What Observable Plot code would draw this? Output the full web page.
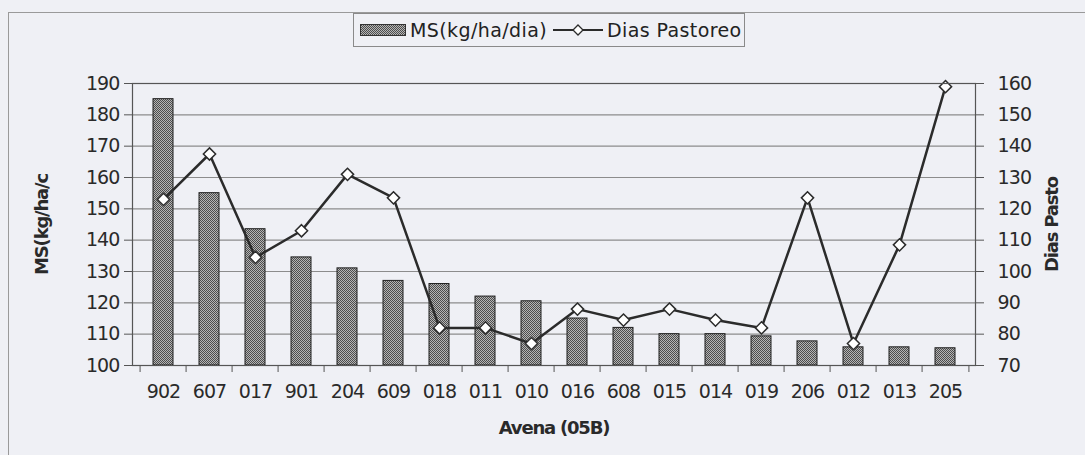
<!DOCTYPE html>
<html><head><meta charset="utf-8">
<script src="https://cdn.jsdelivr.net/npm/d3@7"></script>
<script src="https://cdn.jsdelivr.net/npm/@observablehq/plot@0.6"></script>
<style>
body{margin:0;background:#eff0f5;font-family:"DejaVu Sans",sans-serif;}
#wrap{position:relative;width:1085px;height:455px;overflow:hidden;}
#border{position:absolute;left:8px;top:12px;width:1200px;height:600px;border-top:1px solid #9a9a9a;border-left:1px solid #9a9a9a;}
#legend{position:absolute;left:353px;top:13px;width:392px;height:34px;border:1px solid #8a8a8a;box-sizing:border-box;display:flex;align-items:center;font-size:19px;color:#222;white-space:nowrap;letter-spacing:0.4px;padding-left:6px;}
#legend svg{display:block}
#chart{position:absolute;left:0;top:0;}
</style></head>
<body>
<div id="wrap">
  <div id="border"></div>
  <div id="chart"></div>
  <div id="legend">
    <svg width="46" height="12" style="margin-right:4px"><defs><pattern id="stiplg" width="2" height="2" patternUnits="userSpaceOnUse"><rect width="2" height="2" fill="#b5b5b5"/><rect width="1" height="1" fill="#4d4d4d"/><rect x="1" y="1" width="1" height="1" fill="#4d4d4d"/></pattern></defs><rect x="0.5" y="0.5" width="45" height="11" fill="url(#stiplg)" stroke="#333"/></svg>
    <span id="lg1"></span>
    <svg width="50" height="14" style="margin:0 4px 0 6px"><line x1="0" y1="7" x2="50" y2="7" stroke="#2b2b2b" stroke-width="2"/><path d="M25,2 L30,7 L25,12 L20,7 Z" fill="white" stroke="#2b2b2b" stroke-width="1.3"/></svg>
    <span id="lg2"></span>
  </div>
</div>
<script>
const categories = ["902","607","017","901","204","609","018","011","010","016","608","015","014","019","206","012","013","205"];
const msValues   = [185, 155, 143.5, 134.5, 131, 127, 126, 122, 120.5, 115, 112, 110, 110, 109.3, 107.7, 105.8, 105.8, 105.5];
const diasValues = [123, 137.5, 104.5, 113, 131, 123.5, 82, 82, 77, 88, 84.5, 88, 84.5, 82, 123.5, 77, 108.5, 159];
const leftTicks  = [100,110,120,130,140,150,160,170,180,190];
const rightTicks = [70,80,90,100,110,120,130,140,150,160];
const seriesNames = ["MS(kg/ha/dia)", "Dias Pastoreo"];
const leftTitle = "MS(kg/ha/c";
const rightTitle = "Dias Pasto";
const xTitle = "Avena (05B)";

document.getElementById("lg1").textContent = seriesNames[0];
document.getElementById("lg2").textContent = seriesNames[1];

const W = 1085, H = 455, mL = 132, mR = 110, mT = 83, mB = 90;
const step = (W - mL - mR) / categories.length;
const offset = leftTicks[0] - rightTicks[0];
const rows = categories.map((c, i) => ({cat: c, ms: msValues[i], dias: diasValues[i]}));

const chart = Plot.plot({
  width: W, height: H, marginLeft: mL, marginRight: mR, marginTop: mT, marginBottom: mB,
  style: {background: "transparent", fontFamily: "DejaVu Sans", fontSize: "19px", color: "#2a2a2a", letterSpacing: "-0.9px"},
  x: {type: "band", domain: categories, paddingInner: 0.57, paddingOuter: 0.285},
  y: {domain: [leftTicks[0], leftTicks[leftTicks.length - 1]]},
  marks: [
    Plot.ruleY(leftTicks.slice(1), {stroke: "#8c8c8c", strokeWidth: 1.2}),
    Plot.barY(rows, {x: "cat", y1: leftTicks[0], y2: "ms", fill: "url(#stipple)", stroke: "#1e1e1e", strokeWidth: 1}),
    Plot.lineY(rows, {x: "cat", y: d => d.dias + offset, stroke: "#2b2b2b", strokeWidth: 2.5}),
    Plot.dot(rows, {x: "cat", y: d => d.dias + offset, symbol: "diamond2", r: 5.5, fill: "white", stroke: "#2b2b2b", strokeWidth: 1.5}),
    Plot.axisY({anchor: "left", ticks: leftTicks, tickSize: 8, tickPadding: 5, stroke: "#555",
      label: leftTitle, labelAnchor: "center", labelArrow: "none", labelOffset: 97}),
    Plot.axisY({anchor: "right", ticks: leftTicks, tickFormat: d => d - offset, tickSize: 8, tickPadding: 14, stroke: "#555",
      label: rightTitle, labelAnchor: "center", labelArrow: "none", labelOffset: 82}),
    Plot.axisX({ticks: categories, tickSize: 0, tickPadding: 19,
      label: xTitle, labelAnchor: "center", labelArrow: "none", labelOffset: 68}),
    Plot.axisX({tickSize: 7, tickFormat: () => "", dx: -step / 2, label: null, stroke: "#555"}),
    Plot.axisX({ticks: [categories[categories.length - 1]], tickSize: 7, tickFormat: () => "", dx: step / 2, label: null, stroke: "#555"}),
    Plot.frame({stroke: "#555", strokeWidth: 1.2})
  ]
});

// stipple pattern for bars
const defs = d3.select(chart).insert("defs", ":first-child");
const pat = defs.append("pattern").attr("id", "stipple").attr("width", 2).attr("height", 2).attr("patternUnits", "userSpaceOnUse");
pat.append("rect").attr("width", 2).attr("height", 2).attr("fill", "#b5b5b5");
pat.append("rect").attr("width", 1).attr("height", 1).attr("fill", "#4d4d4d");
pat.append("rect").attr("x", 1).attr("y", 1).attr("width", 1).attr("height", 1).attr("fill", "#4d4d4d");

// bold axis titles
d3.select(chart).selectAll('g[aria-label="y-axis label"] text, g[aria-label="x-axis label"] text')
  .attr("font-weight", "bold").attr("font-size", "18px").attr("letter-spacing", "-1.2px");

document.getElementById("chart").appendChild(chart);
</script>
</body></html>
